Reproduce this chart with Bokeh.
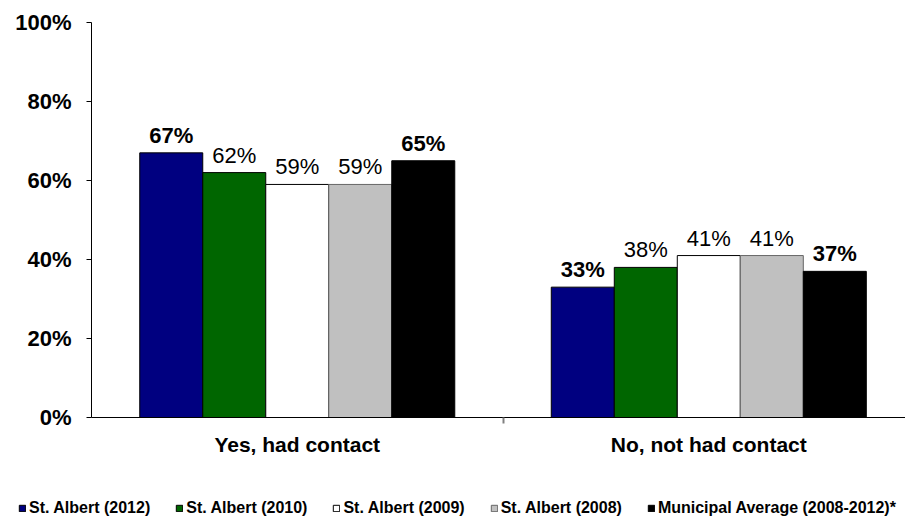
from bokeh.plotting import figure
from bokeh.layouts import column
from bokeh.models import (ColumnDataSource, Range1d, FixedTicker, Legend, LegendItem)
from bokeh.core.properties import value
from bokeh.embed import file_html
from bokeh.resources import INLINE

categories = ["Yes, had contact", "No, not had contact"]
series = ["St. Albert (2012)", "St. Albert (2010)", "St. Albert (2009)",
          "St. Albert (2008)", "Municipal Average (2008-2012)*"]
values_2012 = [67, 33]
values_2010 = [62, 38]
values_2009 = [59, 41]
values_2008 = [59, 41]
values_muni = [65, 37]
y_ticks = [0, 20, 40, 60, 80, 100]
y_tick_labels = ["0%", "20%", "40%", "60%", "80%", "100%"]

all_values = [values_2012, values_2010, values_2009, values_2008, values_muni]
colors = ["#000080", "#006600", "#FFFFFF", "#C0C0C0", "#000000"]
line_colors = ["#000000", "#000000", "#000000", "#666666", "#000000"]
bold = [True, False, False, False, True]

FONT = "Liberation Sans"

p = figure(width=905, height=470, output_backend="svg", toolbar_location=None,
           x_range=Range1d(0, 1.978), y_range=Range1d(0, 100),
           min_border_left=91, min_border_right=0, min_border_top=22,
           min_border_bottom=53)
p.frame_align = False
p.outline_line_color = None
p.grid.grid_line_color = None
p.background_fill_color = "white"
p.border_fill_color = "white"

bw = 0.1531
for j, (vals, c, lc, b) in enumerate(zip(all_values, colors, line_colors, bold)):
    xs = [i + 0.5 + (j - 2) * bw for i in range(len(categories))]
    src = ColumnDataSource(dict(x=xs, top=vals,
                                lbl=[f"{v}%" for v in vals]))
    p.vbar(x="x", top="top", width=bw, source=src, fill_color=c,
           line_color=lc, line_width=1)
    p.text(x="x", y="top", text="lbl", source=src, text_align="center",
           text_baseline="bottom", y_offset=-5,
           text_font=value(FONT), text_font_size="22px",
           text_font_style="bold" if b else "normal", text_color="#000000")

# y axis
ya = p.yaxis[0]
ya.ticker = FixedTicker(ticks=y_ticks)
ya.major_label_overrides = {t: l for t, l in zip(y_ticks, y_tick_labels)}
ya.major_label_text_font = FONT
ya.major_label_text_font_style = "bold"
ya.major_label_text_font_size = "22px"
ya.major_label_text_color = "#000000"
ya.major_tick_out = 5
ya.major_tick_in = 0
ya.minor_tick_out = 0
ya.minor_tick_in = 0
ya.major_label_standoff = 15
ya.axis_line_color = "#000000"
ya.major_tick_line_color = "#000000"

# x axis
xa = p.xaxis[0]
xa.ticker = FixedTicker(ticks=[0.5, 1.5], minor_ticks=[1.0])
xa.major_label_overrides = {0.5: categories[0], 1.5: categories[1]}
xa.major_label_text_font = FONT
xa.major_label_text_font_style = "bold"
xa.major_label_text_font_size = "21px"
xa.major_label_text_color = "#000000"
xa.major_tick_out = 0
xa.major_tick_in = 0
xa.minor_tick_out = 6
xa.minor_tick_in = 0
xa.minor_tick_line_color = "#808080"
xa.minor_tick_line_width = 2
xa.major_label_standoff = 9
xa.axis_line_color = "#000000"

# legend strip
lg = figure(width=905, height=47, output_backend="svg", toolbar_location=None,
            x_range=Range1d(0, 1), y_range=Range1d(0, 1),
            x_axis_type=None, y_axis_type=None,
            min_border_left=0, min_border_right=0, min_border_top=0,
            min_border_bottom=0)
lg.frame_align = False
lg.grid.grid_line_color = None
lg.outline_line_color = None
lg.background_fill_color = "white"
lg.border_fill_color = "white"
items = []
for j, (c, lc) in enumerate(zip(colors, line_colors)):
    r = lg.vbar(x=[5], top=[5], bottom=[4], width=0.1, fill_color=c,
                line_color=lc, line_width=1)
    items.append(LegendItem(label=series[j], renderers=[r]))
legend = Legend(items=items, location=(18, 0), orientation="horizontal",
                glyph_width=8, glyph_height=8, label_standoff=3, spacing=25,
                padding=0, margin=0, border_line_alpha=0,
                background_fill_alpha=0,
                label_text_font=FONT, label_text_font_style="bold",
                label_text_font_size="16px", label_text_color="#000000")
lg.add_layout(legend)

layout = column(p, lg, spacing=0)
open("out.html", "w").write(file_html(layout, INLINE))
